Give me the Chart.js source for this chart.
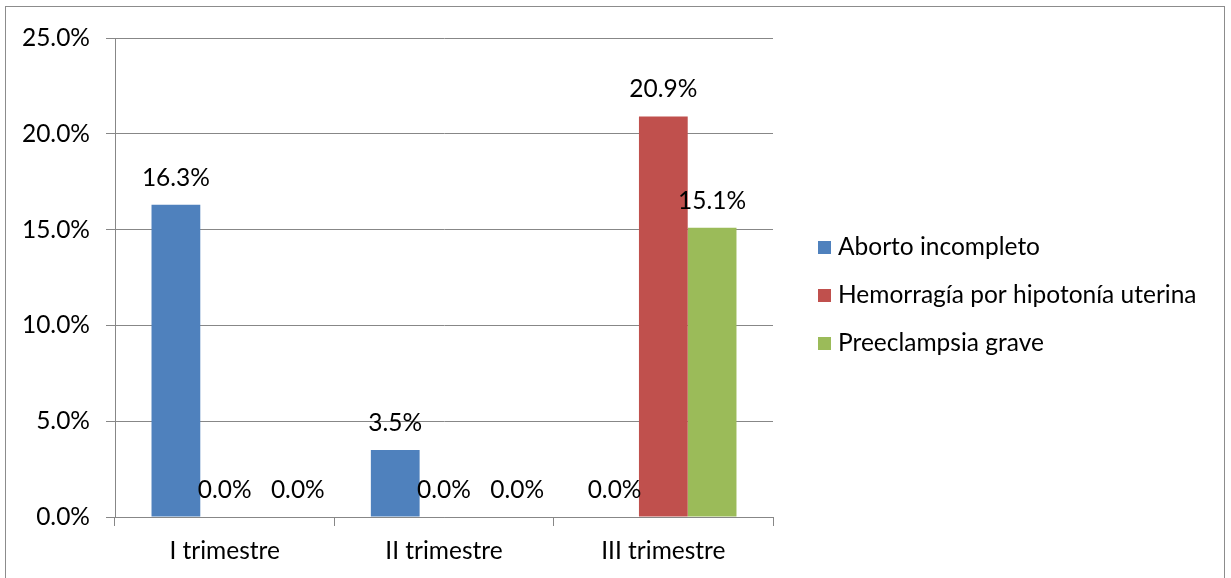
<!DOCTYPE html>
<html>
<head>
<meta charset="utf-8">
<script src="https://cdn.jsdelivr.net/npm/chart.js@4"></script>
<style>
  html, body { margin: 0; padding: 0; background: #fff; }
  #wrap { width: 1231px; height: 578px; }
</style>
</head>
<body>
<div id="wrap"><canvas id="chart" width="1231" height="578"></canvas></div>
<script>
const categories = ['I trimestre', 'II trimestre', 'III trimestre'];
const seriesNames = ['Aborto incompleto', 'Hemorragía por hipotonía uterina', 'Preeclampsia grave'];
const aborto = [16.3, 3.5, 0.0];
const hemorragia = [0.0, 0.0, 20.9];
const preeclampsia = [0.0, 0.0, 15.1];
const colors = ['#4F81BD', '#C0504D', '#9BBB59'];

const FONT = 'Lato, "DejaVu Sans", sans-serif';
const gridColor = '#878787';

// white background + thin outer frame
const framePlugin = {
  id: 'frame',
  beforeDraw(chart) {
    const ctx = chart.ctx;
    ctx.save();
    ctx.fillStyle = '#fff';
    ctx.fillRect(0, 0, chart.width, chart.height);
    ctx.strokeStyle = '#8c8c8c';
    ctx.lineWidth = 1;
    ctx.strokeRect(5.5, 6.5, 1219, 590);
    ctx.restore();
  }
};

// value labels above each bar (zero labels of the last series sit a bit to the right, as in Excel)
const labelPlugin = {
  id: 'barLabels',
  afterDatasetsDraw(chart) {
    const ctx = chart.ctx;
    ctx.save();
    ctx.font = '24.5px ' + FONT;
    ctx.fillStyle = '#000';
    ctx.textAlign = 'center';
    ctx.textBaseline = 'middle';
    chart.data.datasets.forEach((ds, i) => {
      chart.getDatasetMeta(i).data.forEach((bar, j) => {
        const v = ds.data[j];
        const dx = (v === 0 && i === 2) ? bar.width / 2 : 0;
        ctx.fillText(v.toFixed(1) + '%', bar.x + dx, bar.y - 27);
      });
    });
    ctx.restore();
  }
};

// legend on the right, Excel style
const legendPlugin = {
  id: 'sideLegend',
  afterDraw(chart) {
    const ctx = chart.ctx;
    ctx.save();
    ctx.font = '24.5px ' + FONT;
    ctx.textBaseline = 'middle';
    chart.data.datasets.forEach((ds, i) => {
      const y = 247 + i * 48;
      ctx.fillStyle = ds.backgroundColor;
      ctx.fillRect(818, y - 6, 13, 13);
      ctx.fillStyle = '#000';
      ctx.fillText(ds.label, 838, y);
    });
    ctx.restore();
  }
};

const datasets = [aborto, hemorragia, preeclampsia].map((vals, i) => ({
  label: seriesNames[i],
  data: vals,
  backgroundColor: colors[i],
  borderWidth: 0,
  barPercentage: 1.0,
  categoryPercentage: 0.667,
}));

new Chart(document.getElementById('chart'), {
  type: 'bar',
  data: { labels: categories, datasets },
  options: {
    responsive: false,
    animation: false,
    devicePixelRatio: 1,
    layout: { padding: { top: 38, right: 458, bottom: 0, left: 0 } },
    plugins: { legend: { display: false }, tooltip: { enabled: false } },
    scales: {
      x: {
        grid: { drawOnChartArea: false, drawTicks: true, tickLength: 9, color: gridColor },
        border: { display: true, color: gridColor },
        ticks: { color: '#000', font: { family: FONT, size: 24.5 }, padding: 10 },
        afterFit(scale) { scale.height = 61; },
      },
      y: {
        min: 0,
        max: 25,
        grid: { color: gridColor, tickLength: 9 },
        border: { display: true, color: gridColor },
        ticks: {
          stepSize: 5,
          color: '#000',
          font: { family: FONT, size: 24.5 },
          padding: 16,
          callback: (v) => v.toFixed(1) + '%',
        },
        afterFit(scale) { scale.width = 115; },
      },
    },
  },
  plugins: [framePlugin, labelPlugin, legendPlugin],
});
</script>
</body>
</html>
